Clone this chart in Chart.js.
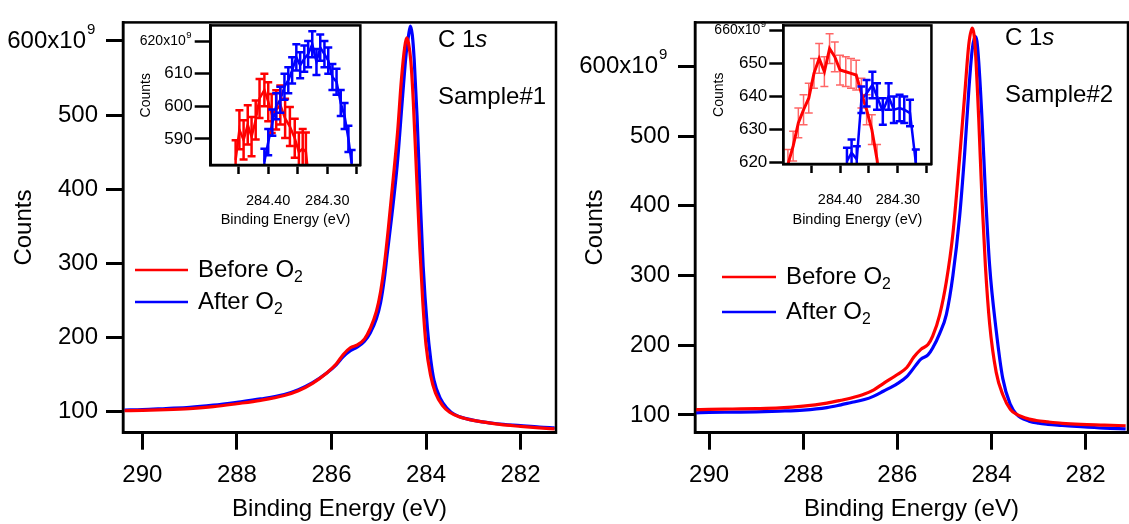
<!DOCTYPE html>
<html><head><meta charset="utf-8">
<script src="https://cdn.jsdelivr.net/npm/chart.js@4.4.1/dist/chart.umd.min.js"></script>
<style>
html,body{margin:0;padding:0;background:#fff;width:1129px;height:524px;overflow:hidden;}
.box{position:absolute;}
</style></head><body>
<div class="box" style="left:0;top:0;width:565px;height:524px"><canvas id="mainL"></canvas></div>
<div class="box" style="left:572px;top:0;width:557px;height:524px"><canvas id="mainR"></canvas></div>
<div class="box" style="left:125px;top:15px;width:250px;height:215px"><canvas id="insL"></canvas></div>
<div class="box" style="left:695px;top:15px;width:250px;height:215px"><canvas id="insR"></canvas></div>
<script>
// ---------- DATA (binding energy in eV, counts in units of 10^9) ----------
const seriesLabels = ['Before O₂', 'After O₂'];

// Sample #1 main spectra
const s1BeforeEnergy = [290.38, 290.0, 289.5, 289.0, 288.5, 288.0, 287.5, 287.0, 286.7, 286.4, 286.1, 285.9, 285.75, 285.6, 285.45, 285.3, 285.18, 285.05, 284.96, 284.88, 284.8, 284.7, 284.6, 284.52, 284.45, 284.41, 284.37, 284.32, 284.27, 284.2, 284.13, 284.07, 284.0, 283.9, 283.8, 283.65, 283.5, 283.3, 283.0, 282.7, 282.3, 282.0, 281.6, 281.28];
const s1BeforeCounts = [101, 101.5, 102.5, 104, 106.5, 110.5, 115, 121.5, 128, 138, 152, 164, 177, 186, 190, 198, 212, 235, 262, 298, 345, 410, 478, 548, 592, 604, 597, 572, 520, 420, 320, 250, 190, 148, 125, 108, 99, 93, 88, 85, 81.5, 80, 78, 76.5];
const s1AfterEnergy = [290.38, 290.0, 289.5, 289.0, 288.5, 288.0, 287.5, 287.0, 286.7, 286.4, 286.1, 285.9, 285.75, 285.6, 285.45, 285.3, 285.18, 285.05, 284.96, 284.88, 284.82, 284.72, 284.61, 284.5, 284.42, 284.37, 284.33, 284.29, 284.25, 284.19, 284.12, 284.06, 283.97, 283.9, 283.83, 283.7, 283.55, 283.4, 283.13, 282.8, 282.5, 282.0, 281.6, 281.28];
const s1AfterCounts = [102, 102.5, 104, 105.5, 108.5, 112.5, 117, 123, 129.5, 139, 152, 163, 174, 182, 187, 195, 206, 225, 247, 280, 313, 366, 432, 521, 583, 607, 620, 608, 575, 499, 384, 296, 212, 170, 142, 118, 104, 96, 90, 86, 83.5, 81, 79, 78];

// Sample #2 main spectra
const s2BeforeEnergy = [290.28, 290.0, 289.5, 289.0, 288.5, 288.0, 287.5, 287.2, 287.0, 286.7, 286.5, 286.3, 286.0, 285.8, 285.65, 285.5, 285.35, 285.25, 285.1, 284.96, 284.82, 284.68, 284.57, 284.48, 284.41, 284.37, 284.34, 284.27, 284.2, 284.13, 284.04, 283.9, 283.76, 283.6, 283.47, 283.2, 283.05, 282.8, 282.5, 282.1, 281.6, 281.15];
const s2BeforeCounts = [107.5, 108, 108.5, 109, 110, 112.5, 117, 121, 124, 130, 136, 145, 158, 168, 183, 194, 201, 213, 244, 291, 360, 467, 559, 633, 655, 645, 620, 522, 406, 314, 231, 161, 129, 108, 101, 94, 92, 90, 88, 86.5, 85.5, 84.5];
const s2AfterEnergy = [290.28, 290.0, 289.5, 289.0, 288.5, 288.0, 287.5, 287.2, 287.0, 286.7, 286.5, 286.3, 286.0, 285.8, 285.6, 285.5, 285.35, 285.25, 285.1, 284.96, 284.82, 284.68, 284.57, 284.48, 284.41, 284.35, 284.31, 284.27, 284.2, 284.13, 284.04, 283.9, 283.76, 283.6, 283.47, 283.2, 283.0, 282.8, 282.5, 282.1, 281.6, 281.15];
const s2AfterCounts = [103, 103.5, 104, 104.5, 105.5, 107, 110.5, 114.5, 117.5, 122, 127, 134, 145, 155, 172, 180, 186, 196, 217, 244, 300, 383, 476, 568, 624, 643, 636, 605, 522, 420, 314, 221, 152, 115, 101, 91, 88, 86.5, 85, 83, 81, 80];

// Sample #1 inset (peak top, with error bars)
const i1BeforeEnergy = [284.4552, 284.4488, 284.4417, 284.4347, 284.4282, 284.4212, 284.4147, 284.4065, 284.4000, 284.3941, 284.3865, 284.3795, 284.3714, 284.3633, 284.3551, 284.3481, 284.3416, 284.3362, 284.3300];
const i1BeforeCounts = [583.6, 592.8, 589.7, 594.3, 590.7, 595.8, 602.4, 605, 601.4, 597.8, 598.9, 600.4, 596.3, 593.8, 590.2, 586, 587, 586, 575];
const i1BeforeError = [6, 6, 6, 6, 6, 6, 6, 5, 6, 6, 6, 6, 6, 6, 6, 6, 6, 6, 6];
const i1AfterEnergy = [284.4065, 284.4000, 284.3930, 284.3865, 284.3795, 284.3725, 284.3660, 284.3595, 284.3524, 284.3459, 284.3389, 284.3324, 284.3254, 284.3183, 284.3119, 284.3048, 284.2983, 284.2913, 284.2843, 284.2772, 284.2707, 284.2642, 284.2588];
const i1AfterCounts = [583, 589, 595, 600, 602, 606, 608, 611, 615, 612.6, 614.6, 616, 619, 613.6, 618, 616, 614, 609, 607.5, 601, 597, 590, 582.6];
const i1AfterError = [4, 4, 4, 4, 4, 4, 4, 4, 4, 4, 4, 4, 4, 4, 4, 4, 4, 4, 4, 4, 4, 4, 4];

// Sample #2 inset
const i2BeforeEnergy = [284.490, 284.481, 284.472, 284.463, 284.454, 284.445, 284.436, 284.427, 284.418, 284.409, 284.400, 284.390, 284.381, 284.372, 284.363, 284.354, 284.345, 284.336, 284.330];
const i2BeforeCounts = [619.5, 625, 632, 636, 639.5, 647, 651.5, 647.5, 654.5, 652, 648, 647.5, 647, 646.5, 641, 636, 630, 621, 612];
const i2BeforeError = [4.5, 4.5, 4.5, 4.5, 4.5, 4.5, 4.5, 4.5, 4.5, 4.5, 4.5, 4.5, 4.5, 4.5, 4.5, 4.5, 4.5, 4.5, 4.5];
const i2AfterEnergy = [284.388, 284.380, 284.371, 284.363, 284.354, 284.344, 284.336, 284.326, 284.316, 284.307, 284.297, 284.289, 284.279, 284.269];
const i2AfterCounts = [620.5, 623, 621, 639, 641, 643.5, 640, 635.5, 640, 636, 636.5, 636, 635, 620];
const i2AfterError = [4, 4, 4, 4, 4, 4, 4, 4, 4, 4, 4, 4, 4, 4];

// Tick values
const mainXTicks = [290, 288, 286, 284, 282];
const mainYTicks = [100, 200, 300, 400, 500, 600];
const insetXTicks = [284.45, 284.40, 284.35, 284.30, 284.25];
const insetXLabelled = [284.40, 284.30];
const inset1YTicks = [590, 600, 610, 620];
const inset2YTicks = [620, 630, 640, 650, 660];

// ---------- RENDERING ----------
const FONT = "'Liberation Sans', Arial, Helvetica, sans-serif";
const RED = '#ff0000', BLUE = '#0000ff';
const EXP_PAD = '\u2002';
const toXY = (xs, ys) => xs.map((x, i) => ({x, y: ys[i]}));

function drawParts(ctx, parts, x, y, size) {
  let cx = x;
  parts.forEach(p => {
    let s = size, dy = 0;
    if (p.sub) { s = size * 0.66; dy = size * 0.3; }
    ctx.font = (p.italic ? 'italic ' : '') + s + 'px ' + FONT;
    ctx.fillText(p.t, cx, y + dy);
    cx += ctx.measureText(p.t).width;
  });
}
function richParts(str) {
  const parts = [];
  for (const ch of str) {
    if (ch === '₂') parts.push({t: '2', sub: true});
    else if (parts.length && !parts[parts.length-1].sub) parts[parts.length-1].t += ch;
    else parts.push({t: ch});
  }
  return parts;
}

const framePlugin = {
  id: 'frame',
  afterDraw(chart, args, opts) {
    const {ctx, chartArea: a} = chart;
    ctx.save();
    ctx.strokeStyle = '#000'; ctx.lineWidth = opts.width || 2.5;
    ctx.strokeRect(a.left, a.top, a.right - a.left, a.bottom - a.top);
    ctx.restore();
  }
};

// draws the "9" exponent right after the top y tick label "NNNx10"
const expPlugin = {
  id: 'exponent',
  afterDraw(chart, args, opts) {
    const ys = chart.scales.y;
    const t = ys.ticks.find(k => k.value === opts.value);
    if (!t) return;
    const ctx = chart.ctx;
    const py = ys.getPixelForValue(t.value);
    const xr = ys.right - opts.tickLen - opts.padding;
    ctx.save();
    ctx.font = opts.baseSize + 'px ' + FONT;
    const base = t.label.replace(EXP_PAD, '');
    const full = ctx.measureText(t.label).width;
    const baseW = ctx.measureText(base).width;
    const x0 = xr - full + baseW + opts.gap;
    ctx.fillStyle = '#000'; ctx.textAlign = 'left'; ctx.textBaseline = 'middle';
    ctx.font = opts.size + 'px ' + FONT;
    ctx.fillText(opts.text, x0, py + opts.dy);
    ctx.restore();
  }
};

const errorBarPlugin = {
  id: 'errorBars',
  afterDatasetsDraw(chart) {
    const {ctx, chartArea: a, scales} = chart;
    const xs = scales.x, ys = scales.y;
    ctx.save();
    ctx.beginPath(); ctx.rect(a.left, a.top, a.right - a.left, a.bottom - a.top); ctx.clip();
    chart.data.datasets.forEach(ds => {
      if (!ds.errors) return;
      ctx.strokeStyle = ds.errorColor || ds.borderColor;
      ctx.lineWidth = ds.errorWidth || 2;
      const c = ds.capHalf || 4;
      ds.data.forEach((p, i) => {
        const px = xs.getPixelForValue(p.x), e = ds.errors[i];
        const y1 = ys.getPixelForValue(p.y - e), y2 = ys.getPixelForValue(p.y + e);
        ctx.beginPath();
        ctx.moveTo(px, y1); ctx.lineTo(px, y2);
        ctx.moveTo(px - c, y1); ctx.lineTo(px + c, y1);
        ctx.moveTo(px - c, y2); ctx.lineTo(px + c, y2);
        ctx.stroke();
      });
    });
    ctx.restore();
  }
};

const labelsPlugin = {
  id: 'labels',
  afterDraw(chart, args, opts) {
    const ctx = chart.ctx;
    ctx.save();
    ctx.fillStyle = '#000'; ctx.textBaseline = 'middle'; ctx.textAlign = 'left';
    const L = opts.legend;
    if (L) {
      chart.data.datasets.forEach((ds, i) => {
        const y = L.y + i * L.dy;
        ctx.strokeStyle = ds.borderColor; ctx.lineWidth = L.lineWidth;
        ctx.beginPath(); ctx.moveTo(L.x0, y); ctx.lineTo(L.x1, y); ctx.stroke();
        ctx.fillStyle = '#000';
        drawParts(ctx, richParts(ds.label), L.tx, y, L.size);
      });
    }
    (opts.texts || []).forEach(t => drawParts(ctx, t.parts, t.x, t.y, t.size));
    ctx.restore();
  }
};

function makeMain(id, datasets, cfg) {
  return new Chart(document.getElementById(id), {
    type: 'line',
    data: {datasets},
    options: {
      responsive: true, maintainAspectRatio: false, animation: false,
      layout: {padding: {top: 12, right: cfg.padRight, left: 0, bottom: 0}},
      elements: {point: {radius: 0}, line: {borderWidth: 3.2, cubicInterpolationMode: 'monotone'}},
      plugins: {
        legend: {display: false}, tooltip: {enabled: false},
        frame: {width: 2.5},
        exponent: {value: 600, text: '9', size: 15, baseSize: 24, dy: -11, gap: 1, tickLen: 17, padding: 8},
        labels: {legend: cfg.legend, texts: cfg.texts}
      },
      scales: {
        x: {
          type: 'linear', reverse: true, min: cfg.xMin, max: cfg.xMax, position: 'bottom',
          afterBuildTicks: s => { s.ticks = mainXTicks.map(v => ({value: v})); },
          afterFit: s => { s.height = cfg.xHeight; },
          grid: {drawOnChartArea: false, drawTicks: true, tickLength: 17, tickWidth: 3, tickColor: '#000'},
          border: {display: true, width: 2.5, color: '#000'},
          ticks: {color: '#000', font: {family: FONT, size: 24}, padding: 11, maxRotation: 0, autoSkip: false,
                  callback: v => String(v)},
          title: {display: true, text: 'Binding Energy (eV)', color: '#000', font: {family: FONT, size: 24}, padding: {top: 0, bottom: 0}}
        },
        y: {
          type: 'linear', min: cfg.yMin, max: cfg.yMax, position: 'left',
          afterBuildTicks: s => { s.ticks = mainYTicks.map(v => ({value: v})); },
          afterFit: s => { s.width = 123; },
          grid: {drawOnChartArea: false, drawTicks: true, tickLength: 17, tickWidth: 3, tickColor: '#000'},
          border: {display: true, width: 2.5, color: '#000'},
          ticks: {color: '#000', font: {family: FONT, size: 24}, padding: 8, autoSkip: false,
                  callback: v => v === 600 ? '600x10' + EXP_PAD : String(v)},
          title: {display: true, text: 'Counts', color: '#000', font: {family: FONT, size: 24}, padding: {top: cfg.yTitlePad, bottom: 0}}
        }
      }
    },
    plugins: [framePlugin, labelsPlugin, expPlugin]
  });
}

function makeInset(id, datasets, cfg) {
  return new Chart(document.getElementById(id), {
    type: 'line',
    data: {datasets},
    options: {
      responsive: true, maintainAspectRatio: false, animation: false,
      layout: {padding: {top: 10, right: cfg.padRight, left: 0, bottom: 0}},
      elements: {point: {radius: 0}, line: {borderWidth: 2.5, tension: 0}},
      plugins: {legend: {display: false}, tooltip: {enabled: false}, frame: {width: 2.5},
        exponent: {value: cfg.yTop, text: '9', size: 9.5, baseSize: 14, dy: -6, gap: 0.5, tickLen: cfg.yTickLen, padding: 2}},
      scales: {
        x: {
          type: 'linear', reverse: true, min: cfg.xMin, max: cfg.xMax, position: 'bottom',
          afterBuildTicks: s => { s.ticks = insetXTicks.map(v => ({value: v})); },
          afterFit: s => { s.height = cfg.xHeight; },
          grid: {drawOnChartArea: false, drawTicks: true, tickLength: 9, tickWidth: 2.5, tickColor: '#000'},
          border: {display: true, width: 2.5, color: '#000'},
          ticks: {color: '#000', font: {family: FONT, size: 14.5}, padding: 18, maxRotation: 0, autoSkip: false,
                  callback: v => insetXLabelled.some(l => Math.abs(l - v) < 1e-6) ? v.toFixed(2) : ''},
          title: {display: true, text: 'Binding Energy (eV)', color: '#000', font: {family: FONT, size: 14.5}, padding: {top: 0, bottom: 1}}
        },
        y: {
          type: 'linear', min: cfg.yMin, max: cfg.yMax, position: 'left',
          afterBuildTicks: s => { s.ticks = cfg.yTicks.map(v => ({value: v})); },
          afterFit: s => { s.width = cfg.yWidth; },
          grid: {drawOnChartArea: false, drawTicks: true, tickLength: cfg.yTickLen, tickWidth: 2.5, tickColor: '#000'},
          border: {display: true, width: 2.5, color: '#000'},
          ticks: {color: '#000', padding: 2, autoSkip: false,
                  font: c => ({family: FONT, size: (c.tick && c.tick.value === cfg.yTop) ? 14 : 17}),
                  callback: v => v === cfg.yTop ? v + 'x10' + EXP_PAD : String(v)},
          title: {display: true, text: 'Counts', color: '#000', font: {family: FONT, size: 14}, padding: {top: cfg.yTitlePad, bottom: 0}}
        }
      }
    },
    plugins: [framePlugin, errorBarPlugin, expPlugin]
  });
}

const cTitle = y => ({parts: [{t: 'C 1'}, {t: 's', italic: true}], size: 24, y});

makeMain('mainL', [
  {label: seriesLabels[0], data: toXY(s1BeforeEnergy, s1BeforeCounts), borderColor: RED, backgroundColor: RED},
  {label: seriesLabels[1], data: toXY(s1AfterEnergy, s1AfterCounts), borderColor: BLUE, backgroundColor: BLUE}
], {
  xMin: 281.25, xMax: 290.41, yMin: 71.4, yMax: 625, padRight: 9, xHeight: 91.3, yTitlePad: 10,
  legend: {x0: 135, x1: 188, y: 270, dy: 32, tx: 198, size: 24, lineWidth: 2.5},
  texts: [Object.assign(cTitle(40.7), {x: 438}), {parts: [{t: 'Sample#1'}], size: 24, x: 438, y: 97}]
});

makeMain('mainR', [
  {label: seriesLabels[0], data: toXY(s2BeforeEnergy, s2BeforeCounts), borderColor: RED, backgroundColor: RED},
  {label: seriesLabels[1], data: toXY(s2AfterEnergy, s2AfterCounts), borderColor: BLUE, backgroundColor: BLUE}
], {
  xMin: 281.10, xMax: 290.30, yMin: 74.5, yMax: 663, padRight: 1, xHeight: 91.3, yTitlePad: 9,
  legend: {x0: 150, x1: 204, y: 277, dy: 35, tx: 214, size: 24, lineWidth: 2.5},
  texts: [Object.assign(cTitle(38), {x: 433}), {parts: [{t: 'Sample#2'}], size: 24, x: 433, y: 95}]
});

makeInset('insL', [
  {label: seriesLabels[0], data: toXY(i1BeforeEnergy, i1BeforeCounts), borderColor: RED, errors: i1BeforeError, errorWidth: 2.5, capHalf: 4},
  {label: seriesLabels[1], data: toXY(i1AfterEnergy, i1AfterCounts), borderColor: BLUE, errors: i1AfterError, errorWidth: 2.5, capHalf: 4}
], {
  xMin: 284.244, xMax: 284.4974, yMin: 582, yMax: 624.8, yTicks: inset1YTicks, yTop: 620,
  padRight: 8.3, xHeight: 65, yWidth: 85.7, yTickLen: 16, yTitlePad: 13
});

makeInset('insR', [
  {label: seriesLabels[0], data: toXY(i2BeforeEnergy, i2BeforeCounts), borderColor: RED, borderWidth: 3, errors: i2BeforeError, errorColor: 'rgba(255,0,0,0.6)', errorWidth: 1.5, capHalf: 4},
  {label: seriesLabels[1], data: toXY(i2AfterEnergy, i2AfterCounts), borderColor: BLUE, errors: i2AfterError, errorWidth: 2.5, capHalf: 4}
], {
  xMin: 284.242, xMax: 284.498, yMin: 619.6, yMax: 661.5, yTicks: inset2YTicks, yTop: 660,
  padRight: 6.7, xHeight: 66, yWidth: 88.3, yTickLen: 14, yTitlePad: 16
});
</script>
</body></html>
